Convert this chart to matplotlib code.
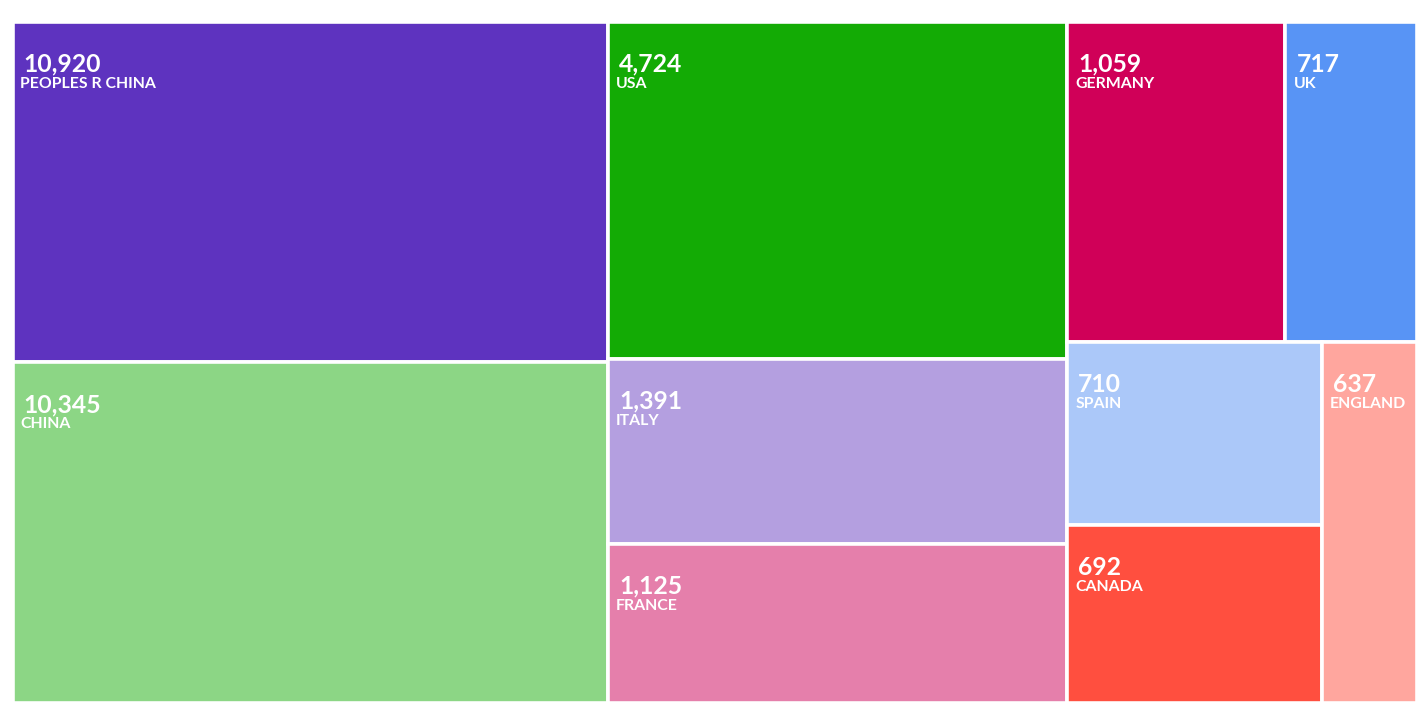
import matplotlib
matplotlib.use('Agg')
import matplotlib.pyplot as plt
from matplotlib.patches import Rectangle

plt.rcParams['font.family'] = ['Lato', 'DejaVu Sans']

countries = ['PEOPLES R CHINA', 'CHINA', 'USA', 'ITALY', 'FRANCE',
             'GERMANY', 'UK', 'SPAIN', 'CANADA', 'ENGLAND']
counts = [10920, 10345, 4724, 1391, 1125, 1059, 717, 710, 692, 637]
# tile areas in % of the chart
tile_weight = [21.22, 21.16, 16.18, 8.88, 7.63, 7.30, 4.42, 4.86, 4.73, 3.62]
colors = ['#5e33bf', '#8cd685', '#13ab05', '#b49fe0', '#e57fab',
          '#d00058', '#5894f5', '#abc8f9', '#ff4f3f', '#ffa69e']

# how the tiles are grouped: 'h' splits left to right, 'v' top to bottom
LAYOUT = ['h', ['v', 0, 1], ['v', 2, 3, 4],
          ['v', ['h', 5, 6], ['h', ['v', 7, 8], 9]]]


def weight(node):
    if isinstance(node, int):
        return tile_weight[node]
    return sum(weight(c) for c in node[1:])


def split(node, x, y, w, h, rects):
    if isinstance(node, int):
        rects[node] = (x, y, w, h)
        return
    total = weight(node)
    pos = 0.0
    for child in node[1:]:
        frac = weight(child) / total
        if node[0] == 'h':
            split(child, x + pos * w, y, frac * w, h, rects)
        else:
            split(child, x, y + pos * h, w, frac * h, rects)
        pos += frac


rects = {}
split(LAYOUT, 0.0, 0.0, 1.0, 1.0, rects)

W, H = 1418, 705
fig = plt.figure(figsize=(W / 100, H / 100), dpi=100)
ax = fig.add_axes([12.5 / W, 2.5 / H, 1405 / W, 681 / H])
ax.set_xlim(0, 1)
ax.set_ylim(1, 0)
ax.axis('off')

for i, name in enumerate(countries):
    x, y, w, h = rects[i]
    ax.add_patch(Rectangle((x, y), w, h, facecolor=colors[i],
                           edgecolor='white', linewidth=2.6))
    ax.annotate(f'{counts[i]:,}', xy=(x, y), xytext=(11, -50),
                textcoords='offset pixels', color='white', fontsize=17.8,
                fontweight='bold', va='baseline', ha='left')
    ax.annotate(name, xy=(x, y), xytext=(8, -66),
                textcoords='offset pixels', color='white', fontsize=11.4,
                fontweight='bold', va='baseline', ha='left')

fig.savefig('out.png', dpi=100)
